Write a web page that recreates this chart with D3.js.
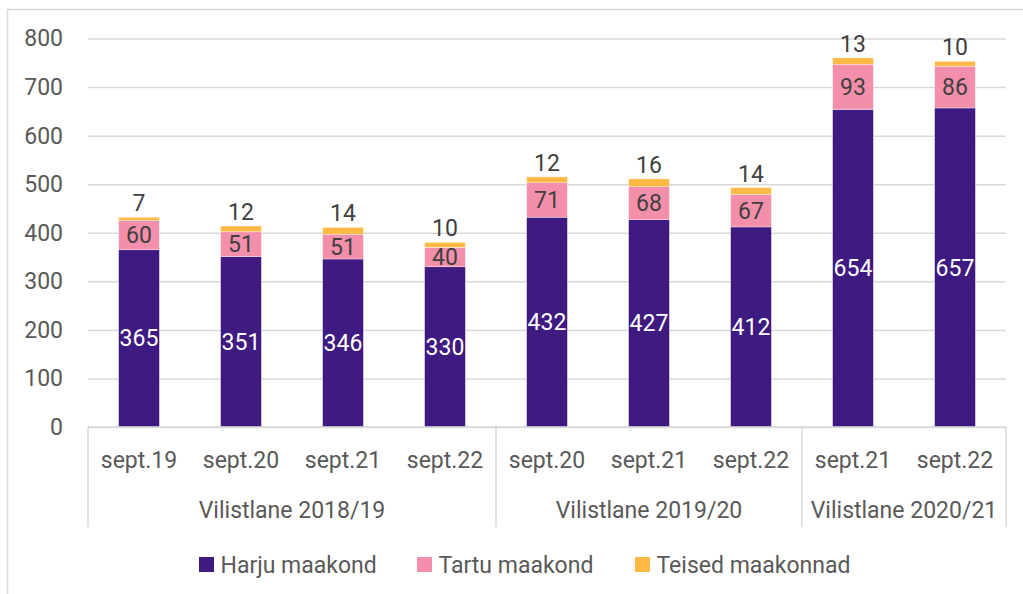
<!DOCTYPE html>
<html>
<head>
<meta charset="utf-8">
<script src="https://cdn.jsdelivr.net/npm/d3@7"></script>
<style>
  html, body { margin: 0; padding: 0; background: #fff; }
  svg { display: block; font-family: Roboto, "Noto Sans", sans-serif; }
</style>
</head>
<body>
<svg id="chart" width="1023" height="594"></svg>
<script>
const categories = ["sept.19", "sept.20", "sept.21", "sept.22", "sept.20", "sept.21", "sept.22", "sept.21", "sept.22"];
const groups = [
  { label: "Vilistlane 2018/19", count: 4 },
  { label: "Vilistlane 2019/20", count: 3 },
  { label: "Vilistlane 2020/21", count: 2 }
];
const seriesNames = ["Harju maakond", "Tartu maakond", "Teised maakonnad"];
const harju = [365, 351, 346, 330, 432, 427, 412, 654, 657];
const tartu = [60, 51, 51, 40, 71, 68, 67, 93, 86];
const teised = [7, 12, 14, 10, 12, 16, 14, 13, 10];
const yTicks = [0, 100, 200, 300, 400, 500, 600, 700, 800];

(function () {
const colors = ["#3f1a80", "#f48fab", "#ffb944"];
const labelColors = ["#ffffff", "#404040", "#404040"];

const svg = d3.select("#chart");
const W = 1023, H = 594;
const pLeft = 88, pRight = 1006, pTop = 38.5, pBottom = 427;

// outer border
svg.append("rect").attr("x", 7.5).attr("y", 9.5).attr("width", W + 20).attr("height", H + 20)
  .attr("fill", "none").attr("stroke", "#d9d9d9").attr("stroke-width", 1.5);

const x = d3.scaleBand().domain(d3.range(categories.length)).range([pLeft, pRight])
  .paddingInner(0.6).paddingOuter(0.3);
const y = d3.scaleLinear().domain([0, 800]).range([pBottom, pTop]);

// gridlines
const yAxis = d3.axisLeft(y).tickValues(yTicks).tickSize(-(pRight - pLeft)).tickPadding(25);
const gy = svg.append("g").attr("transform", `translate(${pLeft},0)`).call(yAxis);
gy.select(".domain").remove();
gy.selectAll(".tick line").attr("stroke", "#d9d9d9").attr("stroke-width", 1.5);
gy.selectAll(".tick text").attr("fill", "#595959").attr("font-size", "23px")
  .attr("font-family", "Roboto, sans-serif");

// stacked data
const data = categories.map((c, i) => ({ i, "Harju maakond": harju[i], "Tartu maakond": tartu[i], "Teised maakonnad": teised[i] }));
const stack = d3.stack().keys(seriesNames)(data);

const layers = svg.append("g").selectAll("g").data(stack).join("g")
  .attr("fill", (d, k) => colors[k]);
layers.selectAll("rect").data(d => d).join("rect")
  .attr("x", d => x(d.data.i))
  .attr("width", x.bandwidth())
  .attr("y", d => y(d[1]))
  .attr("height", d => y(d[0]) - y(d[1]))
  .attr("stroke", "#ffffff").attr("stroke-width", 0.6).attr("stroke-opacity", 0.6);

// labels
stack.forEach((layer, k) => {
  svg.append("g").selectAll("text").data(layer).join("text")
    .attr("x", d => x(d.data.i) + x.bandwidth() / 2)
    .attr("y", d => k < 2 ? (y(d[0]) + y(d[1])) / 2 : y(d[1]) - 6)
    .attr("dy", k < 2 ? "0.35em" : "0")
    .attr("text-anchor", "middle")
    .attr("font-size", "23px")
    .attr("fill", labelColors[k])
    .text(d => d[1] - d[0]);
});

// x axis line
svg.append("line").attr("x1", pLeft).attr("x2", pRight).attr("y1", pBottom).attr("y2", pBottom)
  .attr("stroke", "#d9d9d9").attr("stroke-width", 1.5);

// category labels
svg.append("g").selectAll("text").data(categories).join("text")
  .attr("x", (d, i) => x(i) + x.bandwidth() / 2)
  .attr("y", 468)
  .attr("text-anchor", "middle").attr("font-size", "23px").attr("fill", "#595959")
  .text(d => d);

// group separators and labels
const step = x.step();
let start = 0;
const bounds = [0];
groups.forEach(g => { start += g.count; bounds.push(start); });
svg.append("g").selectAll("line").data(bounds).join("line")
  .attr("x1", b => pLeft + b * step).attr("x2", b => pLeft + b * step)
  .attr("y1", pBottom).attr("y2", 527)
  .attr("stroke", "#d9d9d9").attr("stroke-width", 1.5);
svg.append("g").selectAll("text").data(groups).join("text")
  .attr("x", (g, k) => pLeft + (bounds[k] + bounds[k + 1]) / 2 * step)
  .attr("y", 518)
  .attr("text-anchor", "middle").attr("font-size", "23px").attr("fill", "#595959")
  .text(g => g.label);

// legend
const legendX = [199, 417, 635];
const lg = svg.append("g").selectAll("g").data(seriesNames).join("g")
  .attr("transform", (d, k) => `translate(${legendX[k]},564.5)`);
lg.append("rect").attr("x", 0).attr("y", -7.5).attr("width", 15).attr("height", 15)
  .attr("fill", (d, k) => colors[k]);
lg.append("text").attr("x", 21.5)
  .attr("dy", "0.35em").attr("font-size", "23px").attr("fill", "#595959")
  .text(d => d);
})();
</script>
</body>
</html>
